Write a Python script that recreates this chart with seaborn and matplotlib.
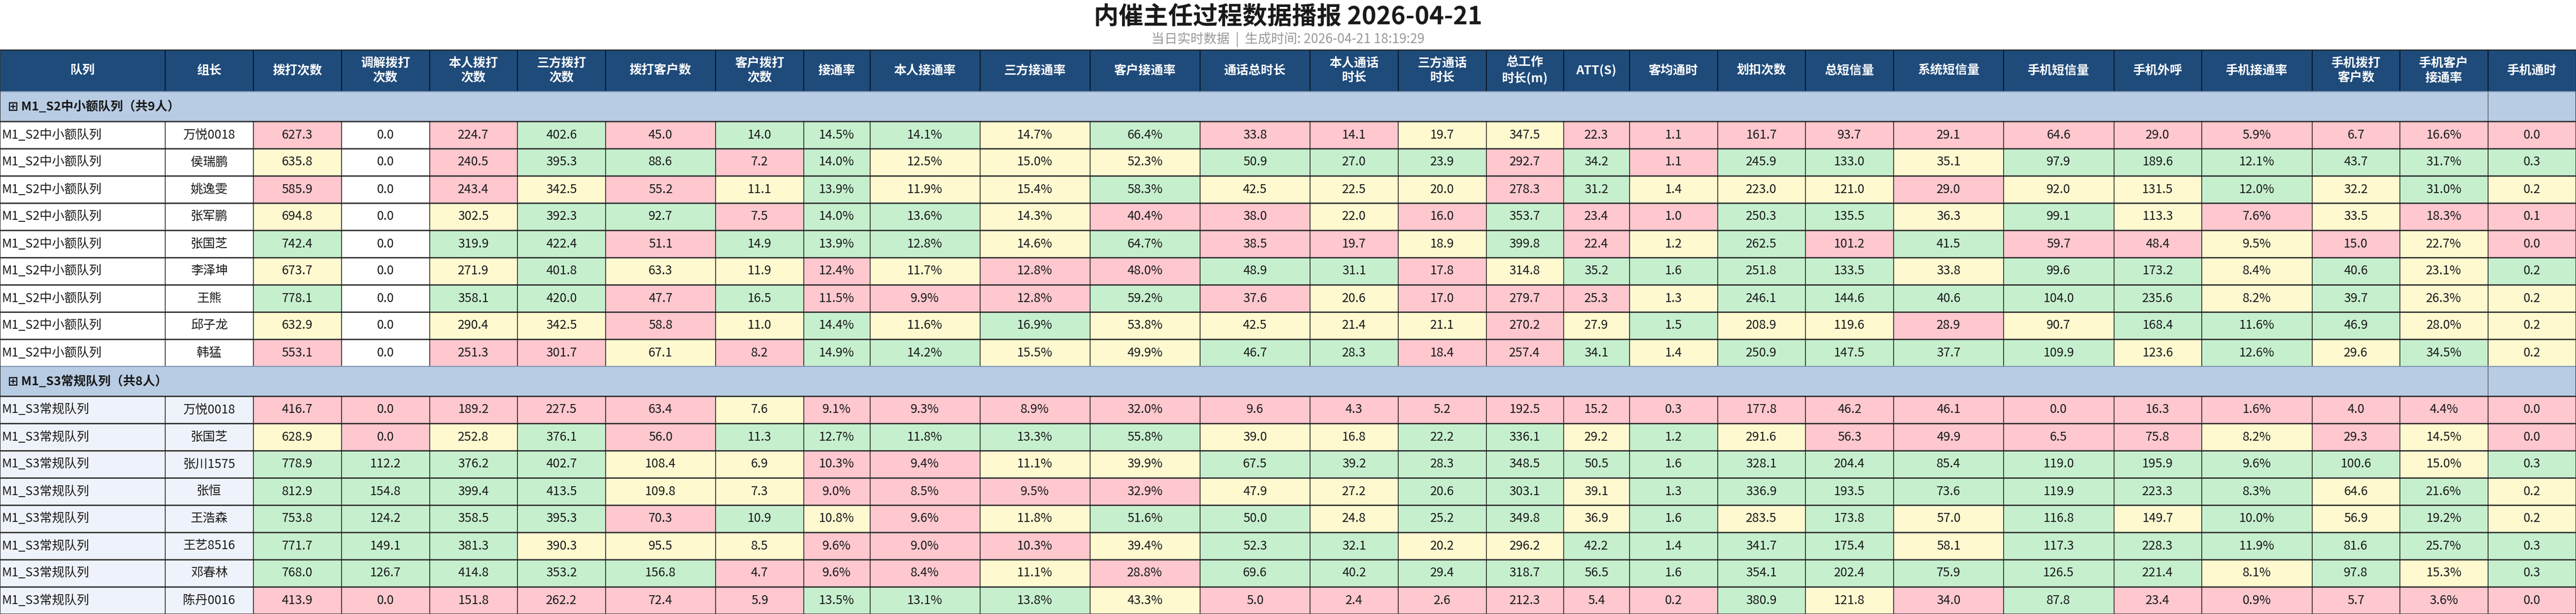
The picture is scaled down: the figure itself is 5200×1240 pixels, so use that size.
import numpy as np
import matplotlib.pyplot as plt
from matplotlib.colors import ListedColormap
import seaborn as sns

# ---- data ----
title = '内催主任过程数据播报 2026-04-21'
subtitle = '当日实时数据  |  生成时间: 2026-04-21 18:19:29'

columns = ['队列', '组长', '拨打次数', '调解拨打\n次数', '本人拨打\n次数', '三方拨打\n次数', '拨打客户数',
           '客户拨打\n次数', '接通率', '本人接通率', '三方接通率', '客户接通率', '通话总时长',
           '本人通话\n时长', '三方通话\n时长', '总工作\n时长(m)', 'ATT(S)', '客均通时', '划扣次数',
           '总短信量', '系统短信量', '手机短信量', '手机外呼', '手机接通率', '手机拨打\n客户数',
           '手机客户\n接通率', '手机通时']
pct_cols = [8, 9, 10, 11, 23, 25]

s2_team = 'M1_S2中小额队列'
s2_names = ['万悦0018', '侯瑞鹏', '姚逸雯', '张军鹏', '张国芝', '李泽坤', '王熊', '邱子龙', '韩猛']
s2_values = [
    [627.3, 0.0, 224.7, 402.6, 45.0, 14.0, 14.5, 14.1, 14.7, 66.4, 33.8, 14.1, 19.7, 347.5, 22.3, 1.1, 161.7, 93.7, 29.1, 64.6, 29.0, 5.9, 6.7, 16.6, 0.0],
    [635.8, 0.0, 240.5, 395.3, 88.6, 7.2, 14.0, 12.5, 15.0, 52.3, 50.9, 27.0, 23.9, 292.7, 34.2, 1.1, 245.9, 133.0, 35.1, 97.9, 189.6, 12.1, 43.7, 31.7, 0.3],
    [585.9, 0.0, 243.4, 342.5, 55.2, 11.1, 13.9, 11.9, 15.4, 58.3, 42.5, 22.5, 20.0, 278.3, 31.2, 1.4, 223.0, 121.0, 29.0, 92.0, 131.5, 12.0, 32.2, 31.0, 0.2],
    [694.8, 0.0, 302.5, 392.3, 92.7, 7.5, 14.0, 13.6, 14.3, 40.4, 38.0, 22.0, 16.0, 353.7, 23.4, 1.0, 250.3, 135.5, 36.3, 99.1, 113.3, 7.6, 33.5, 18.3, 0.1],
    [742.4, 0.0, 319.9, 422.4, 51.1, 14.9, 13.9, 12.8, 14.6, 64.7, 38.5, 19.7, 18.9, 399.8, 22.4, 1.2, 262.5, 101.2, 41.5, 59.7, 48.4, 9.5, 15.0, 22.7, 0.0],
    [673.7, 0.0, 271.9, 401.8, 63.3, 11.9, 12.4, 11.7, 12.8, 48.0, 48.9, 31.1, 17.8, 314.8, 35.2, 1.6, 251.8, 133.5, 33.8, 99.6, 173.2, 8.4, 40.6, 23.1, 0.2],
    [778.1, 0.0, 358.1, 420.0, 47.7, 16.5, 11.5, 9.9, 12.8, 59.2, 37.6, 20.6, 17.0, 279.7, 25.3, 1.3, 246.1, 144.6, 40.6, 104.0, 235.6, 8.2, 39.7, 26.3, 0.2],
    [632.9, 0.0, 290.4, 342.5, 58.8, 11.0, 14.4, 11.6, 16.9, 53.8, 42.5, 21.4, 21.1, 270.2, 27.9, 1.5, 208.9, 119.6, 28.9, 90.7, 168.4, 11.6, 46.9, 28.0, 0.2],
    [553.1, 0.0, 251.3, 301.7, 67.1, 8.2, 14.9, 14.2, 15.5, 49.9, 46.7, 28.3, 18.4, 257.4, 34.1, 1.4, 250.9, 147.5, 37.7, 109.9, 123.6, 12.6, 29.6, 34.5, 0.2],
]
# P = below target, Y = near, G = good, W = no rating
s2_flags = ['PWPGPGGGYGPPYYPPPPPPPPPPP', 'YWPGGPGYYYGGGPGPGGYGGGGGG', 'PWPYPYGYYGYYYPGYYYPYYGYGY',
            'YWYGGPGGYPPYPGPPGGYGYPYPP', 'GWGGPGGGYGPPYGPYGPGPPYPYP', 'YWYGYYPYPPGGPYGGGGYGGYGYG',
            'GWGGPGPPPGPYPPPYGGGGGYGYY', 'YWYYPYGYGYYYYPYGYYPYGGGYY', 'PWPPYPGGYYGGPPGYGGGGYGYGY']

s3_team = 'M1_S3常规队列'
s3_names = ['万悦0018', '张国芝', '张川1575', '张恒', '王浩森', '王艺8516', '邓春林', '陈丹0016']
s3_values = [
    [416.7, 0.0, 189.2, 227.5, 63.4, 7.6, 9.1, 9.3, 8.9, 32.0, 9.6, 4.3, 5.2, 192.5, 15.2, 0.3, 177.8, 46.2, 46.1, 0.0, 16.3, 1.6, 4.0, 4.4, 0.0],
    [628.9, 0.0, 252.8, 376.1, 56.0, 11.3, 12.7, 11.8, 13.3, 55.8, 39.0, 16.8, 22.2, 336.1, 29.2, 1.2, 291.6, 56.3, 49.9, 6.5, 75.8, 8.2, 29.3, 14.5, 0.0],
    [778.9, 112.2, 376.2, 402.7, 108.4, 6.9, 10.3, 9.4, 11.1, 39.9, 67.5, 39.2, 28.3, 348.5, 50.5, 1.6, 328.1, 204.4, 85.4, 119.0, 195.9, 9.6, 100.6, 15.0, 0.3],
    [812.9, 154.8, 399.4, 413.5, 109.8, 7.3, 9.0, 8.5, 9.5, 32.9, 47.9, 27.2, 20.6, 303.1, 39.1, 1.3, 336.9, 193.5, 73.6, 119.9, 223.3, 8.3, 64.6, 21.6, 0.2],
    [753.8, 124.2, 358.5, 395.3, 70.3, 10.9, 10.8, 9.6, 11.8, 51.6, 50.0, 24.8, 25.2, 349.8, 36.9, 1.6, 283.5, 173.8, 57.0, 116.8, 149.7, 10.0, 56.9, 19.2, 0.2],
    [771.7, 149.1, 381.3, 390.3, 95.5, 8.5, 9.6, 9.0, 10.3, 39.4, 52.3, 32.1, 20.2, 296.2, 42.2, 1.4, 341.7, 175.4, 58.1, 117.3, 228.3, 11.9, 81.6, 25.7, 0.3],
    [768.0, 126.7, 414.8, 353.2, 156.8, 4.7, 9.6, 8.4, 11.1, 28.8, 69.6, 40.2, 29.4, 318.7, 56.5, 1.6, 354.1, 202.4, 75.9, 126.5, 221.4, 8.1, 97.8, 15.3, 0.3],
    [413.9, 0.0, 151.8, 262.2, 72.4, 5.9, 13.5, 13.1, 13.8, 43.3, 5.0, 2.4, 2.6, 212.3, 5.4, 0.2, 380.9, 121.8, 34.0, 87.8, 23.4, 0.9, 5.7, 3.6, 0.0],
]
s3_flags = ['PPPPPYPPPPPPPPPPPPPPPPPPP', 'YPYGPGGGGGYYGGYGYPPPPYPYP', 'GGGGYYPPYYGGGGGGGGGGGGGYG',
            'GGGGYYPPPPYYGGYGGGGGGGYGY', 'GGGGPGYPYGGYGGYGYGYGYGYGY', 'GGGYYYPPPYGGYYGGGGYGGGGGG',
            'GGGGGPPPYPGGGGGGGGGGGYGYG', 'PPPPPPGGGYPPPPPPGYPGPPPPP']

# ---- layout (grid units: x ~22.2px, y 5px) ----
col_units = [15, 8, 8, 8, 8, 8, 10, 8, 6, 10, 10, 10, 10, 8, 8, 7, 6, 8, 8, 8, 10, 10, 8, 10, 8, 8, 8]
header_h, group_h, row_h = 17, 12, 11

palette = ['#ffffff', '#ffc7ce', '#fff9d0', '#c6efce', '#eef2fb', '#1f4b7b', '#b8cce4']
flag_code = {'W': 0, 'P': 1, 'Y': 2, 'G': 3}

sns.set_theme(style='white')
plt.rcParams['font.family'] = ['Noto Sans CJK SC', 'DejaVu Sans']

# build cell code matrix
ncol = len(columns)
row_codes, row_heights = [[5] * ncol], [header_h]
row_codes.append([6] * ncol); row_heights.append(group_h)
for f in s2_flags:
    row_codes.append([0, 0] + [flag_code[c] for c in f]); row_heights.append(row_h)
row_codes.append([6] * ncol); row_heights.append(group_h)
for f in s3_flags:
    row_codes.append([4, 4] + [flag_code[c] for c in f]); row_heights.append(row_h)
grid = np.repeat(np.repeat(np.array(row_codes), row_heights, axis=0), col_units, axis=1)

fig = plt.figure(figsize=(52, 12.4), dpi=100)
ax = fig.add_axes([0, 0, 1, 1140 / 1240])
sns.heatmap(grid, cmap=ListedColormap(palette), vmin=-0.5, vmax=6.5, cbar=False,
            xticklabels=False, yticklabels=False, ax=ax)
ax.set_xlim(0, grid.shape[1])
ax.set_ylim(grid.shape[0], 0)

edges = np.concatenate([[0], np.cumsum(col_units)])
centers = (edges[:-1] + edges[1:]) / 2
total_w = edges[-1]

# title
fig.text(0.5, 1 - 35 / 1240, title, ha='center', va='center', fontsize=36, fontweight='bold', color='#1a1a1a')
fig.text(0.5, 1 - 80 / 1240, subtitle, ha='center', va='center', fontsize=19, color='#999999')

# header
for i, name in enumerate(columns):
    ax.text(centers[i], header_h / 2, name, ha='center', va='center', fontsize=18,
            fontweight='bold', color='white', linespacing=1.3)
ax.vlines(edges[1:-1], 0, header_h, color='black', lw=1)
ax.hlines(0, 0, total_w, color='#222222', lw=3)


def draw_group(y0, team, names, values, flags):
    ax.text(0.7, y0 + group_h / 2, f'⊞ {team}（共{len(names)}人）', ha='left', va='center',
            fontsize=18, fontweight='bold', color='#1a1a1a')
    ax.vlines(edges[-2], y0, y0 + group_h, color='#555555', lw=1)
    ax.hlines(y0, 0, total_w, color='#8094b0', lw=1.5)
    y = y0 + group_h
    for name, vals in zip(names, values):
        yc = y + row_h / 2
        ax.text(0.15, yc, team, ha='left', va='center', fontsize=18, color='#1a1a1a')
        ax.text(centers[1], yc, name, ha='center', va='center', fontsize=18, color='#1a1a1a')
        for j, v in enumerate(vals):
            col = j + 2
            label = f'{v:.1f}%' if col in pct_cols else f'{v:.1f}'
            ax.text(centers[col], yc, label, ha='center', va='center', fontsize=18, color='#1a1a1a')
        ax.hlines(y, 0, total_w, color='#333333', lw=2)
        ax.vlines(edges[1:-1], y, y + row_h, color='black', lw=1)
        y += row_h
    return y


y_end = draw_group(header_h, s2_team, s2_names, s2_values, s2_flags)
y_end = draw_group(y_end, s3_team, s3_names, s3_values, s3_flags)
ax.hlines(y_end, 0, total_w, color='#333333', lw=2)
ax.vlines([0, total_w], 0, y_end, color='#333333', lw=1.5)

fig.savefig('out.png', dpi=100)
